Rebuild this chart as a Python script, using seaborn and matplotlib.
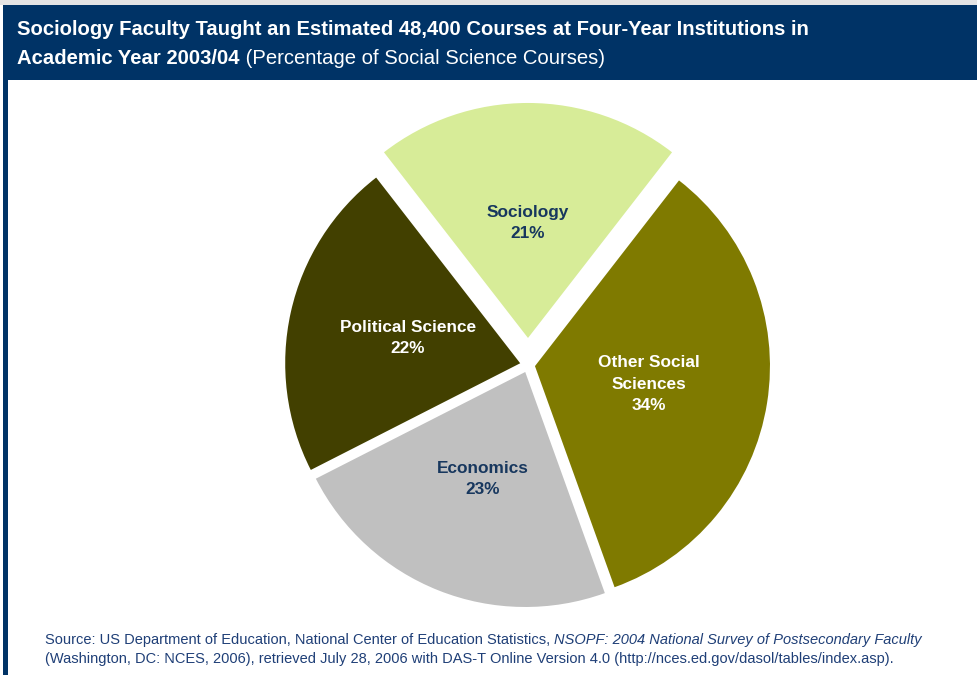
import matplotlib
matplotlib.use("Agg")
import matplotlib.pyplot as plt
import seaborn as sns
from matplotlib.patches import Rectangle

# ---- data ----
categories = ["Sociology", "Political Science", "Economics", "Other Social\nSciences"]
values = [21, 22, 23, 34]
colors = ["#D7EC98", "#424000", "#C0C0C0", "#7F7A00"]
label_colors = ["#17375E", "white", "#17375E", "white"]
explode = [0.115, 0.034, 0.032, 0.03]

title_bold_1 = "Sociology Faculty Taught an Estimated 48,400 Courses at Four-Year Institutions in"
title_bold_2 = "Academic Year 2003/04"
title_normal_2 = " (Percentage of Social Science Courses)"
source_1a = "Source: US Department of Education, National Center of Education Statistics, "
source_1b = "NSOPF: 2004 National Survey of Postsecondary Faculty"
source_2 = ("(Washington, DC: NCES, 2006), retrieved July 28, 2006 with DAS-T Online "
            "Version 4.0 (http://nces.ed.gov/dasol/tables/index.asp).")

sns.set_theme(style="white")
plt.rcParams['font.family'] = ['Liberation Sans', 'DejaVu Sans']

W, H = 977, 675
fig = plt.figure(figsize=(W / 100, H / 100), dpi=100)
fig.patch.set_facecolor("white")

def fx(x):
    return x / W

def fy(y):
    return 1 - y / H

NAVY = "#003366"
# top gray band, header, left border
fig.patches.append(Rectangle((0, fy(5)), 1, 5 / H, transform=fig.transFigure,
                             facecolor="#E4E4E4", edgecolor="none", zorder=0))
fig.patches.append(Rectangle((fx(3), fy(80)), 1 - fx(3), 75 / H, transform=fig.transFigure,
                             facecolor=NAVY, edgecolor="none", zorder=0))
fig.patches.append(Rectangle((fx(3), 0), 5 / W, fy(80), transform=fig.transFigure,
                             facecolor=NAVY, edgecolor="none", zorder=0))

# pie axes: center (528,365) px, radius 235 px
R = 235.0
cx, cy = 528, 365
aw, ah = 600, 560
ax = fig.add_axes([fx(cx - aw / 2), fy(cy + ah / 2), aw / W, ah / H])
labels = [f"{c}\n{v}%" for c, v in zip(categories, values)]
wedges, texts = ax.pie(values, labels=labels, colors=colors, explode=explode,
                       startangle=90 - values[0] * 3.6 / 2, counterclock=True,
                       labeldistance=0.49,
                       wedgeprops=dict(linewidth=0),
                       textprops=dict(ha="center", va="center", fontsize=12.4,
                                      fontweight="bold", linespacing=1.55))
for t, c in zip(texts, label_colors):
    t.set_color(c)
ax.set_xlim(-aw / 2 / R, aw / 2 / R)
ax.set_ylim(-ah / 2 / R, ah / 2 / R)
ax.set_aspect("equal", adjustable="box")
ax.axis("off")

# title
tfs = 14.6
fig.text(fx(17), fy(35), title_bold_1, color="white", fontsize=tfs,
         fontweight="bold", va="baseline", ha="left")
t2 = fig.text(fx(17), fy(64), title_bold_2, color="white", fontsize=tfs,
              fontweight="bold", va="baseline", ha="left")
fig.canvas.draw()
r = fig.canvas.get_renderer()
bb = t2.get_window_extent(renderer=r)
fig.text(bb.x1 / W, fy(64), title_normal_2, color="white", fontsize=tfs,
         va="baseline", ha="left")

# source
SRC = "#1F3F77"
sfs = 10.5
s1 = fig.text(fx(45), fy(644), source_1a, color=SRC, fontsize=sfs, va="baseline", ha="left")
fig.canvas.draw()
bb = s1.get_window_extent(renderer=r)
fig.text(bb.x1 / W, fy(644), source_1b, color=SRC, fontsize=sfs, style="italic",
         va="baseline", ha="left")
fig.text(fx(45), fy(663), source_2, color=SRC, fontsize=sfs, va="baseline", ha="left")

fig.savefig("out.png", dpi=100, facecolor="white")
